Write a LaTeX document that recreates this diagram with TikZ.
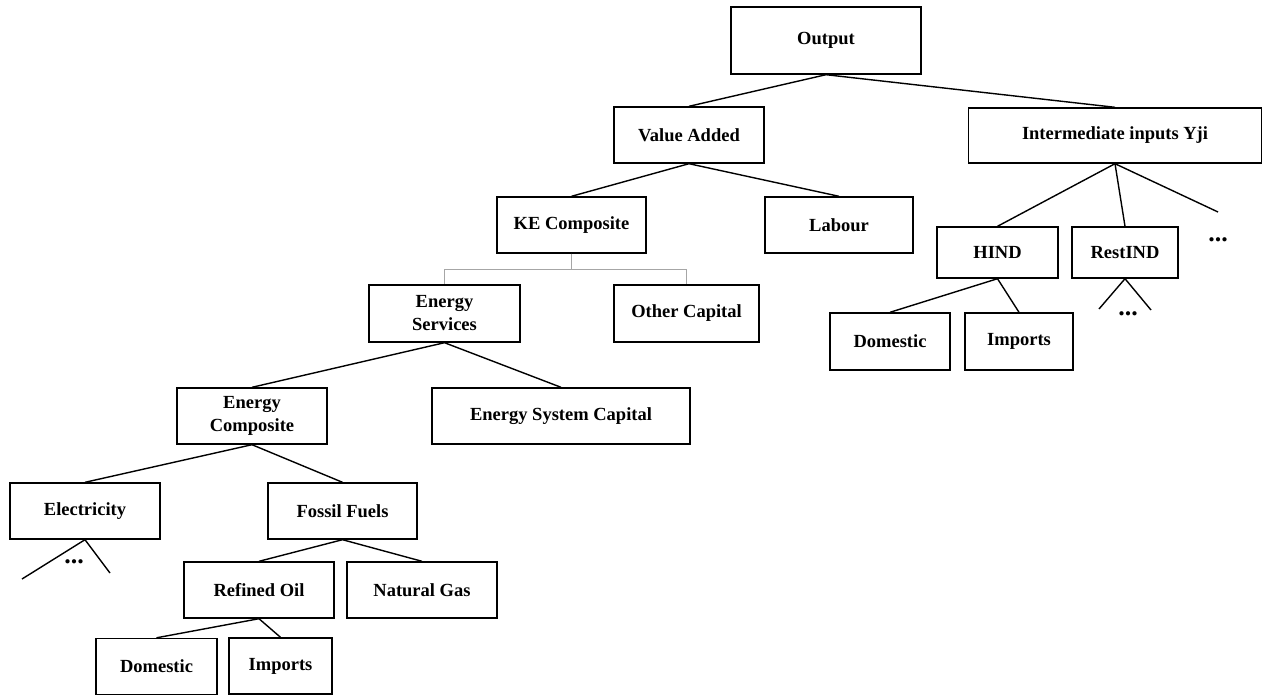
\documentclass[tikz,border=0pt]{standalone}
\usepackage{fontspec}
\setmainfont{Liberation Serif}
\usetikzlibrary{positioning}

\tikzset{
  box/.style={draw, line width=1.4pt, minimum height=56pt, inner sep=2pt,
    align=center, font=\fontsize{18.5}{23}\selectfont\bfseries},
  link/.style={line width=1.4pt},
  elbow/.style={line width=0.8pt, gray!70},
  dots/.style={font=\fontsize{26}{26}\selectfont\bfseries, inner sep=0pt}
}

\begin{document}
\begin{tikzpicture}[x=1pt,y=-1pt]
    \useasboundingbox (0,0) rectangle (1265,698);
    % top levels
    \node[box, minimum width=190pt, minimum height=67pt] (out) at (826,40.5) {Output};
    \node[box, minimum width=150pt] (va) at (689,135) {Value Added};
    \node[box, minimum width=293pt, minimum height=55pt] (inter) at (1115,135.5) {Intermediate inputs Yji};
    \node[box, minimum width=149pt] (ke) at (571.5,225) {KE Composite};
    \node[box, minimum width=148pt] (lab) at (839,225) {Labour};
    \node[box, minimum width=151pt, minimum height=57pt] (es) at (444.5,313.5) {Energy\\Services};
    \node[box, minimum width=145pt, minimum height=57pt] (oc) at (686.5,313.5) {Other Capital};
    \node[box, minimum width=258pt] (esc) at (561,416) {Energy System Capital};
    \node[box, minimum width=150pt] (ec) at (252,416) {Energy\\Composite};
    \node[box, minimum width=150pt] (el) at (85,511) {Electricity};
    \node[box, minimum width=149pt] (ff) at (342.5,511) {Fossil Fuels};
    \node[box, minimum width=150pt] (ro) at (259,590) {Refined Oil};
    \node[box, minimum width=150pt] (ng) at (422,590) {Natural Gas};
    \node[box, minimum width=121pt] (dom) at (156.5,666.5) {Domestic};
    \node[box, minimum width=103pt] (imp) at (280.5,666) {Imports};
    % intermediate inputs branch
    \node[box, minimum width=121pt, minimum height=51pt] (hind) at (997.5,252.5) {HIND};
    \node[box, minimum width=106pt, minimum height=51pt] (rest) at (1125,252.5) {RestIND};
    \node[box, minimum width=120pt, minimum height=57pt] (domr) at (890,341.5) {Domestic};
    \node[box, minimum width=108pt, minimum height=57pt] (impr) at (1019,341.5) {Imports};

    % open ends
    \coordinate (elL) at (22,579);
    \coordinate (elR) at (110,573);
    \coordinate (restL) at (1099,309);
    \coordinate (restR) at (1151,310);
    \coordinate (interR) at (1218,212);
    \node[dots] (eldots) at (74,562) {...};
    \node[dots] (restdots) at (1128,314) {...};
    \node[dots] (interdots) at (1218,240) {...};

    \draw[link] (out.south) -- (va.north);
    \draw[link] (out.south) -- (inter.north);
    \draw[link] (va.south) -- (ke.north);
    \draw[link] (va.south) -- (lab.north);
    \draw[elbow] (ke.south) -- ++(0,16) -| (es.north);
    \draw[elbow] (ke.south) -- ++(0,16) -| (oc.north);
    \draw[link] (es.south) -- (ec.north);
    \draw[link] (es.south) -- (esc.north);
    \draw[link] (ec.south) -- (el.north);
    \draw[link] (ec.south) -- (ff.north);
    \draw[link] (el.south) -- (elL);
    \draw[link] (el.south) -- (elR);
    \draw[link] (ff.south) -- (ro.north);
    \draw[link] (ff.south) -- (ng.north);
    \draw[link] (ro.south) -- (dom.north);
    \draw[link] (ro.south) -- (imp.north);
    \draw[link] (inter.south) -- (hind.north);
    \draw[link] (inter.south) -- (rest.north);
    \draw[link] (inter.south) -- (interR);
    \draw[link] (hind.south) -- (domr.north);
    \draw[link] (hind.south) -- (impr.north);
    \draw[link] (rest.south) -- (restL);
    \draw[link] (rest.south) -- (restR);
\end{tikzpicture}
\end{document}
